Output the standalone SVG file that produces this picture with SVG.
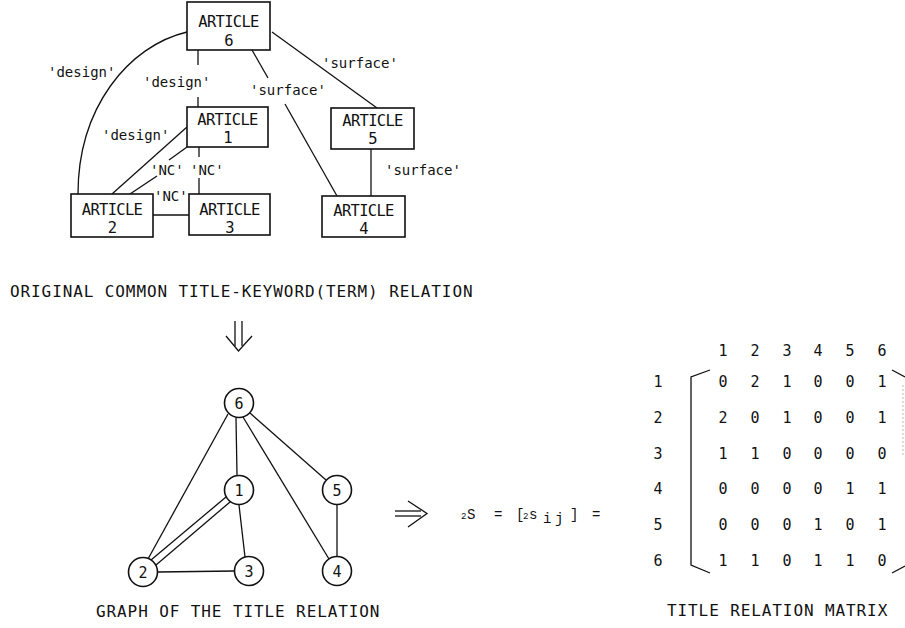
<svg xmlns="http://www.w3.org/2000/svg" width="905" height="628" viewBox="0 0 905 628">
<style>
.bx{fill:#fff;stroke:#111;stroke-width:1.6}
.ln{fill:none;stroke:#111;stroke-width:1.3}
.t{font-family:"DejaVu Sans Mono","Liberation Mono",monospace;fill:#111}
.art{font-size:15.5px;letter-spacing:-0.7px;text-anchor:middle}
.lab{font-size:14px}
.cap{font-size:16px;letter-spacing:0.9px}
.num{font-size:15px;text-anchor:middle}
.eq{font-family:"Liberation Mono","Courier New",monospace;fill:#111;font-size:14px}
.cr{fill:#fff;stroke:#111;stroke-width:1.6}
</style>
<rect width="905" height="628" fill="#fff"/>

<!-- top relation connectors -->
<g id="connectors-top" class="ln">
<path d="M187,32 C128,46 78,108 78,194"/>
<line x1="198" y1="50" x2="198" y2="65"/>
<line x1="198" y1="97" x2="198" y2="107"/>
<line x1="252" y1="50" x2="268" y2="78"/>
<line x1="285" y1="104" x2="337" y2="196"/>
<line x1="272" y1="32" x2="377" y2="108"/>
<line x1="371" y1="149" x2="371" y2="196"/>
<line x1="187" y1="127" x2="112" y2="194"/>
<line x1="187" y1="147" x2="169" y2="160"/>
<line x1="157" y1="176" x2="130" y2="194"/>
<line x1="199" y1="147" x2="199" y2="157"/>
<line x1="199" y1="178" x2="199" y2="194"/>
<line x1="153" y1="215" x2="189" y2="215"/>
</g>
<g id="edge-labels" class="t lab">
<text x="48" y="77">'design'</text>
<text x="143" y="87">'design'</text>
<text x="250" y="95">'surface'</text>
<text x="322" y="68">'surface'</text>
<text x="102" y="140">'design'</text>
<text x="150" y="175">'NC'</text>
<text x="190" y="175">'NC'</text>
<text x="154" y="201">'NC'</text>
<text x="385" y="175">'surface'</text>
</g>

<g id="article6"><rect class="bx" x="187" y="2" width="83" height="48"/><text class="t art" x="228.5" y="27">ARTICLE</text><text class="t art" x="228.5" y="46">6</text></g>
<g id="article1"><rect class="bx" x="187" y="107" width="81" height="40"/><text class="t art" x="227.5" y="125">ARTICLE</text><text class="t art" x="227.5" y="143">1</text></g>
<g id="article5"><rect class="bx" x="331" y="108" width="83" height="41"/><text class="t art" x="372.5" y="126">ARTICLE</text><text class="t art" x="372.5" y="144">5</text></g>
<g id="article2"><rect class="bx" x="71" y="194" width="82" height="43"/><text class="t art" x="112" y="215">ARTICLE</text><text class="t art" x="112" y="233">2</text></g>
<g id="article3"><rect class="bx" x="189" y="194" width="81" height="41"/><text class="t art" x="229.5" y="215">ARTICLE</text><text class="t art" x="229.5" y="233">3</text></g>
<g id="article4"><rect class="bx" x="322" y="196" width="83" height="41"/><text class="t art" x="363.5" y="216">ARTICLE</text><text class="t art" x="363.5" y="234">4</text></g>

<text class="t cap" x="10" y="297">ORIGINAL COMMON TITLE-KEYWORD(TERM) RELATION</text>

<!-- down double arrow -->
<g id="down-arrow" class="ln">
<line x1="235" y1="321" x2="235" y2="346"/>
<line x1="242" y1="321" x2="242" y2="346"/>
<polyline points="226,336 238.5,351 252,336"/>
</g>

<!-- graph connectors -->
<g id="connectors-graph" class="ln">
<line x1="236" y1="418" x2="237" y2="475"/>
<line x1="228" y1="414" x2="148" y2="559"/>
<line x1="243" y1="417" x2="329" y2="559"/>
<line x1="250" y1="413" x2="326" y2="480"/>
<line x1="239" y1="505" x2="245" y2="557"/>
<line x1="226" y1="497" x2="151" y2="560"/>
<line x1="230" y1="502" x2="156" y2="565"/>
<line x1="157.5" y1="572" x2="234.5" y2="571"/>
<line x1="337" y1="504.5" x2="337" y2="556.5"/>
</g>
<g id="n6"><circle class="cr" cx="239" cy="403" r="14.5"/><text class="t num" x="239" y="408.5">6</text></g>
<g id="n1"><circle class="cr" cx="239" cy="490" r="14.5"/><text class="t num" x="239" y="495.5">1</text></g>
<g id="n5"><circle class="cr" cx="337" cy="490" r="14.5"/><text class="t num" x="337" y="495.5">5</text></g>
<g id="n2"><circle class="cr" cx="143" cy="572" r="14.5"/><text class="t num" x="143" y="577.5">2</text></g>
<g id="n3"><circle class="cr" cx="249" cy="571" r="14.5"/><text class="t num" x="249" y="576.5">3</text></g>
<g id="n4"><circle class="cr" cx="337" cy="571" r="14.5"/><text class="t num" x="337" y="576.5">4</text></g>

<text class="t cap" x="96" y="617">GRAPH OF THE TITLE RELATION</text>

<!-- right double arrow -->
<g id="right-arrow" class="ln">
<line x1="395" y1="511" x2="421" y2="511"/>
<line x1="395" y1="516" x2="421" y2="516"/>
<polyline points="408,501 427,513.5 408,527"/>
</g>

<g id="equation" class="eq">
<text x="461" y="519" font-size="9">2</text>
<text x="467" y="519">S</text>
<text x="494" y="519">=</text>
<text x="516" y="519">[</text>
<text x="523" y="519" font-size="9">2</text>
<text x="529" y="519">s</text>
<text x="543" y="523">i</text>
<text x="555" y="523">j</text>
<text x="570" y="519">]</text>
<text x="592" y="519">=</text>
</g>

<g id="matrix" class="t num">
<text x="723" y="356">1</text><text x="755" y="356">2</text><text x="787" y="356">3</text><text x="818" y="356">4</text><text x="850" y="356">5</text><text x="882" y="356">6</text>
<text x="658" y="387">1</text><text x="658" y="423">2</text><text x="658" y="459">3</text><text x="658" y="494">4</text><text x="658" y="530">5</text><text x="658" y="566">6</text>
<text x="723" y="387">0</text><text x="755" y="387">2</text><text x="787" y="387">1</text><text x="818" y="387">0</text><text x="850" y="387">0</text><text x="882" y="387">1</text>
<text x="723" y="423">2</text><text x="755" y="423">0</text><text x="787" y="423">1</text><text x="818" y="423">0</text><text x="850" y="423">0</text><text x="882" y="423">1</text>
<text x="723" y="459">1</text><text x="755" y="459">1</text><text x="787" y="459">0</text><text x="818" y="459">0</text><text x="850" y="459">0</text><text x="882" y="459">0</text>
<text x="723" y="494">0</text><text x="755" y="494">0</text><text x="787" y="494">0</text><text x="818" y="494">0</text><text x="850" y="494">1</text><text x="882" y="494">1</text>
<text x="723" y="530">0</text><text x="755" y="530">0</text><text x="787" y="530">0</text><text x="818" y="530">1</text><text x="850" y="530">0</text><text x="882" y="530">1</text>
<text x="723" y="566">1</text><text x="755" y="566">1</text><text x="787" y="566">0</text><text x="818" y="566">1</text><text x="850" y="566">1</text><text x="882" y="566">0</text>
</g>
<g id="brackets" class="ln">
<polyline points="710,370 691,377 691,565 710,573"/>
<line x1="892" y1="370" x2="905" y2="377"/>
<line x1="892" y1="573" x2="905" y2="566"/>
<line x1="903" y1="385" x2="903" y2="455" stroke="#ccc" stroke-dasharray="2 2"/>
</g>

<text class="t cap" x="667" y="616">TITLE RELATION MATRIX</text>
</svg>
